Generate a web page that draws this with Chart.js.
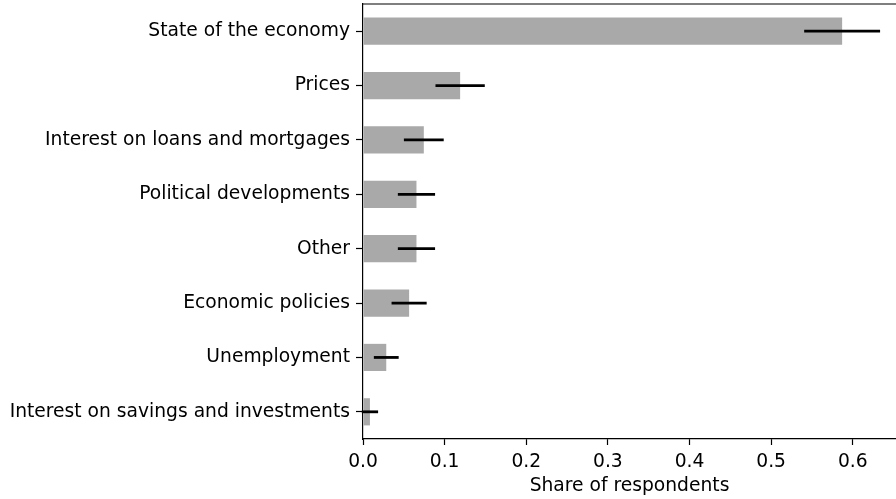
<!DOCTYPE html>
<html lang="en">
<head>
    <meta charset="UTF-8">
    <title>Share of respondents</title>
    <style>
        html, body {
            margin: 0;
            padding: 0;
            background-color: #fff;
        }

        #wrap {
            width: 896px;
            height: 499px;
        }
    </style>
    <script src="https://cdn.jsdelivr.net/npm/chart.js"></script>
</head>
<body>

<div id="wrap">
    <canvas id="shareChart" width="896" height="499"></canvas>
</div>

<script>
    const categories = [
        'State of the economy',
        'Prices',
        'Interest on loans and mortgages',
        'Political developments',
        'Other',
        'Economic policies',
        'Unemployment',
        'Interest on savings and investments'
    ];
    const shares = [0.587, 0.119, 0.0745, 0.0655, 0.0655, 0.0565, 0.0285, 0.0085];
    const errors = [0.0465, 0.0302, 0.0244, 0.0228, 0.0228, 0.0215, 0.0152, 0.0100];
    const xTicks = [0.0, 0.1, 0.2, 0.3, 0.4, 0.5, 0.6];

    const FONT = { family: '"DejaVu Sans", sans-serif', size: 18.7 };

    // horizontal error bars, drawn over the bars from the same scales
    const errorBars = {
        id: 'errorBars',
        afterDatasetsDraw(chart) {
            const ctx = chart.ctx;
            const x = chart.scales.x;
            const y = chart.scales.y;
            ctx.save();
            ctx.strokeStyle = '#000';
            ctx.lineWidth = 2.8;
            shares.forEach(function (v, i) {
                const yy = y.getPixelForValue(i);
                ctx.beginPath();
                ctx.moveTo(x.getPixelForValue(v - errors[i]), yy);
                ctx.lineTo(x.getPixelForValue(v + errors[i]), yy);
                ctx.stroke();
            });
            ctx.restore();
        }
    };

    // top spine (left and bottom come from the axis borders)
    const frame = {
        id: 'frame',
        afterDraw(chart) {
            const a = chart.chartArea;
            const ctx = chart.ctx;
            ctx.save();
            ctx.strokeStyle = '#000';
            ctx.lineWidth = 1.2;
            ctx.beginPath();
            ctx.moveTo(a.left, a.top);
            ctx.lineTo(a.right, a.top);
            ctx.stroke();
            ctx.restore();
        }
    };

    new Chart(document.getElementById('shareChart').getContext('2d'), {
        type: 'bar',
        data: {
            labels: categories,
            datasets: [{
                data: shares,
                backgroundColor: '#a9a9a9',
                borderWidth: 0,
                barPercentage: 0.5,
                categoryPercentage: 1.0
            }]
        },
        options: {
            indexAxis: 'y',
            responsive: false,
            animation: false,
            devicePixelRatio: 1,
            layout: { padding: { top: 4, right: 0, left: 0, bottom: 0 } },
            plugins: {
                legend: { display: false },
                tooltip: { enabled: false }
            },
            scales: {
                x: {
                    type: 'linear',
                    min: 0,
                    max: 0.653,
                    afterBuildTicks(scale) {
                        scale.ticks = xTicks.map(function (v) { return { value: v }; });
                    },
                    afterFit(scale) {
                        scale.height = 60;
                        scale.paddingLeft = 0;
                        scale.paddingRight = 0;
                    },
                    ticks: {
                        color: '#000',
                        font: FONT,
                        padding: 6,
                        maxRotation: 0,
                        callback: function (v) { return v.toFixed(1); }
                    },
                    grid: {
                        display: true,
                        drawOnChartArea: false,
                        drawTicks: true,
                        tickLength: 6,
                        tickWidth: 1.2,
                        tickColor: '#000'
                    },
                    border: { display: true, color: '#000', width: 1.2 },
                    title: {
                        display: true,
                        text: 'Share of respondents',
                        color: '#000',
                        font: FONT,
                        padding: { top: 0, bottom: 2 }
                    }
                },
                y: {
                    type: 'category',
                    offset: true,
                    afterFit(scale) {
                        scale.width = 363;
                        scale.paddingTop = 0;
                        scale.paddingBottom = 0;
                    },
                    ticks: {
                        color: '#000',
                        font: FONT,
                        padding: 6
                    },
                    grid: {
                        display: true,
                        offset: false,
                        drawOnChartArea: false,
                        drawTicks: true,
                        tickLength: 7,
                        tickWidth: 1.2,
                        tickColor: '#000'
                    },
                    border: { display: true, color: '#000', width: 1.2 }
                }
            }
        },
        plugins: [errorBars, frame]
    });
</script>

</body>
</html>
